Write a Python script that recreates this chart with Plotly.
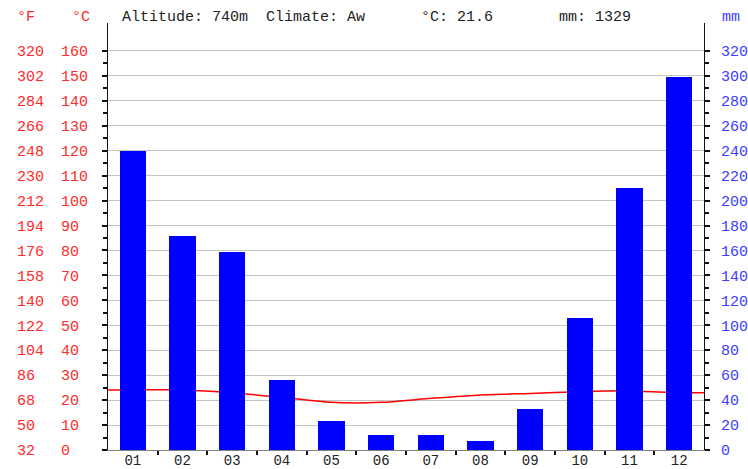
import plotly.graph_objects as go

months = ["01", "02", "03", "04", "05", "06", "07", "08", "09", "10", "11", "12"]
precip_mm = [240, 172, 159, 56, 23, 12, 12, 7, 33, 106, 210, 299]
temp_c = [24.1, 24.1, 23.0, 21.1, 19.1, 19.1, 20.7, 22.1, 22.7, 23.4, 23.7, 23.0]
c_ticks = list(range(0, 161, 10))
mm_ticks = list(range(0, 321, 20))
altitude = "740m"
climate = "Aw"
mean_temp = "21.6"
total_mm = "1329"

W, H = 748, 469
FONT = "Liberation Mono"
RED = "#ff2a2a"
BLUE = "#3c3cff"

x_idx = list(range(len(months)))
# temperature line spans the full plot width (edges repeat Jan / Dec values)
line_x = [-0.5] + x_idx + [len(months) - 0.5]
line_y = [temp_c[0]] + temp_c + [temp_c[-1]]

c_top = 171.2
fig = go.Figure()
fig.add_trace(go.Bar(x=x_idx, y=precip_mm, yaxis="y2", width=0.53,
                     marker=dict(color="#0000ff", line=dict(width=0)), showlegend=False))
fig.add_trace(go.Scatter(x=line_x, y=line_y, yaxis="y", mode="lines",
                         line=dict(color="#ff0000", width=1.5, shape="spline", smoothing=0.6),
                         showlegend=False))
# invisible carriers so the °F and °C label axes are drawn
for ya in ("y3", "y4"):
    fig.add_trace(go.Scatter(x=x_idx, y=temp_c, yaxis=ya, mode="lines",
                             line=dict(color="rgba(0,0,0,0)", width=0),
                             hoverinfo="skip", showlegend=False))

xd = [108 / W, 704 / W]
yd = [19 / H, (H - 23) / H]

fig.update_layout(
    width=W, height=H, margin=dict(l=0, r=0, t=0, b=0, autoexpand=False),
    paper_bgcolor="white", plot_bgcolor="white",
    font=dict(family=FONT, size=15, color="#222"),
    bargap=0,
    xaxis=dict(domain=xd, range=[-0.5, len(months) - 0.5], tickmode="array", automargin=False,
               tickvals=x_idx, ticktext=months, ticks="", showgrid=False, zeroline=False,
               showline=True, linecolor="#808080", linewidth=1, ticklabelstandoff=-3,
               tickfont=dict(family=FONT, size=14, color="#222"),
               minor=dict(tickmode="array", tickvals=[i + 0.5 for i in x_idx[:-1]],
                          ticks="outside", ticklen=4, tickwidth=2, tickcolor="#111", showgrid=False)),
    yaxis=dict(domain=yd, range=[0, c_top], tickmode="array", tickvals=c_ticks, automargin=False,
               showticklabels=False, ticks="outside", ticklen=5, tickwidth=2, tickcolor="#111",
               showgrid=True, gridcolor="#c4c4c4", gridwidth=1, zeroline=False,
               showline=True, linecolor="#111", linewidth=1,
               minor=dict(tickmode="array", tickvals=[v + 5 for v in c_ticks[:-1]],
                          ticks="outside", ticklen=4, tickwidth=2, tickcolor="#111", showgrid=False)),
    yaxis2=dict(range=[0, c_top * 2], overlaying="y", side="right", anchor="x", automargin=False,
                tickmode="array", tickvals=mm_ticks, ticks="outside", ticklen=5, tickwidth=2,
                tickcolor="#111", showgrid=False, zeroline=False, showline=True,
                linecolor="#111", linewidth=1, ticklabelstandoff=8,
                tickfont=dict(family=FONT, size=15, color=BLUE),
                minor=dict(tickmode="array", tickvals=[v + 10 for v in mm_ticks[:-1]],
                           ticks="outside", ticklen=4, tickwidth=2, tickcolor="#111", showgrid=False)),
    yaxis3=dict(range=[0, c_top], overlaying="y", side="right", anchor="free", automargin=False,
                position=16 / W, tickmode="array", tickvals=c_ticks,
                ticktext=[str(round(c * 1.8 + 32)) for c in c_ticks], ticks="",
                showgrid=False, zeroline=False, showline=False,
                tickfont=dict(family=FONT, size=15, color=RED)),
    yaxis4=dict(range=[0, c_top], overlaying="y", side="right", anchor="free", automargin=False,
                position=60 / W, tickmode="array", tickvals=c_ticks,
                ticktext=[str(c) for c in c_ticks], ticks="",
                showgrid=False, zeroline=False, showline=False,
                tickfont=dict(family=FONT, size=15, color=RED)),
)

hy = 1 - 17 / H
ann = [
    ("°F", 15, RED),
    ("°C", 70, RED),
    (f"Altitude: {altitude}  Climate: {climate}", 120, "#222"),
    (f"°C: {mean_temp}", 419, "#222"),
    (f"mm: {total_mm}", 557, "#222"),
    ("mm", 720, BLUE),
]
for text, x, col in ann:
    fig.add_annotation(x=x / W, y=hy, xref="paper", yref="paper", text=text, showarrow=False,
                       xanchor="left", yanchor="middle",
                       font=dict(family=FONT, size=15, color=col))

fig.write_html("out.html")
